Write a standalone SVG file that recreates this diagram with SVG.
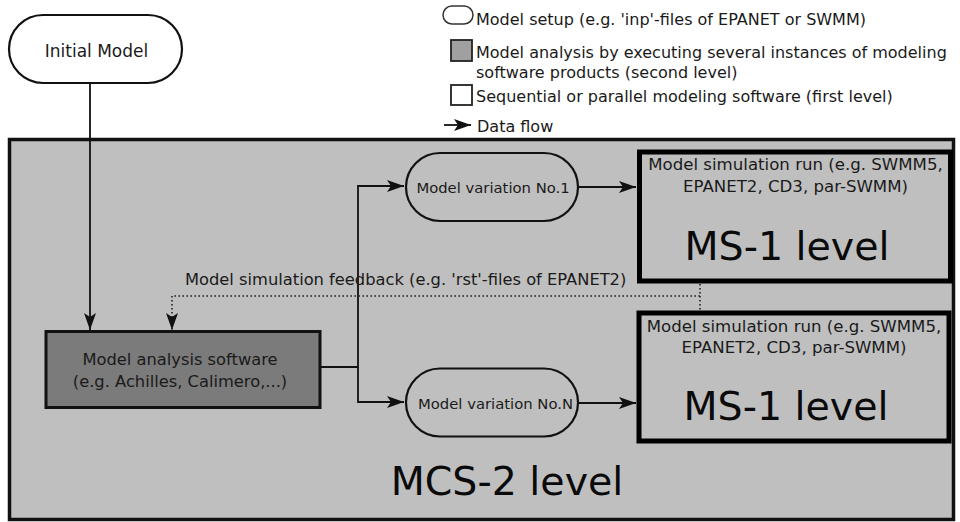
<svg xmlns="http://www.w3.org/2000/svg" width="960" height="522" viewBox="0 0 960 522">
<defs>
<style>
text{font-family:"DejaVu Sans","Liberation Sans",sans-serif;fill:#1a1a1a}
.leg{font-size:16px}
.lbl{font-size:16.3px}
.sim{font-size:16.6px;text-anchor:middle}
.big{font-size:39.5px;text-anchor:middle;fill:#0a0a0a}
.pill{stroke:#111;stroke-width:2.2;fill:none}
.flow{stroke:#111;stroke-width:1.8;fill:none}
.dot{stroke:#222;stroke-width:1.6;fill:none;stroke-dasharray:1.6 2.4}
</style>
<marker id="ah" markerUnits="userSpaceOnUse" markerWidth="18" markerHeight="13" refX="17" refY="6.5" orient="auto">
<path d="M0,0.5 L17,6.5 L0,12.5 L4,6.5 z" fill="#111"/>
</marker>
</defs>
<rect width="960" height="522" fill="#ffffff"/>

<g id="legend">
<rect x="443" y="6" width="30" height="18" rx="9" ry="9" fill="#fff" stroke="#333" stroke-width="1.5"/>
<text class="leg" x="476" y="25">Model setup (e.g. 'inp'-files of EPANET or SWMM)</text>
<rect x="451" y="40" width="21" height="21" fill="#a0a0a0" stroke="#222" stroke-width="1.8"/>
<text class="leg" x="476" y="58">Model analysis by executing several instances of modeling</text>
<text class="leg" x="476" y="78">software products (second level)</text>
<rect x="451" y="85" width="21" height="20" fill="#fff" stroke="#222" stroke-width="1.8"/>
<text class="leg" x="476" y="102">Sequential or parallel modeling software (first level)</text>
<line x1="444" y1="125" x2="471" y2="125" stroke="#111" stroke-width="1.8" marker-end="url(#ah)"/>
<text class="leg" x="477" y="132">Data flow</text>
</g>

<g id="mcs2">
<rect x="9.5" y="139.5" width="944" height="380" fill="#bfbfbf" stroke="#111" stroke-width="3.5"/>
<text class="big" x="507" y="495">MCS-2 level</text>
</g>

<g id="initial">
<rect x="9" y="15" width="173" height="68" rx="34" ry="34" fill="#fff" stroke="#111" stroke-width="2.2"/>
<text x="96.5" y="57" text-anchor="middle" font-size="17">Initial Model</text>
</g>

<g id="analysis">
<rect x="46" y="331.5" width="274" height="76" fill="#7b7b7b" stroke="#111" stroke-width="3"/>
<text class="lbl" x="180" y="365" text-anchor="middle">Model analysis software</text>
<text class="lbl" x="180" y="387" text-anchor="middle">(e.g. Achilles, Calimero,...)</text>
</g>

<g id="var1">
<rect x="406" y="153" width="172" height="68" rx="34" ry="34" class="pill"/>
<text x="493" y="193" text-anchor="middle" font-size="14.8">Model variation No.1</text>
</g>

<g id="varN">
<rect x="406" y="368.5" width="172" height="68" rx="34" ry="34" class="pill"/>
<text x="495.5" y="409" text-anchor="middle" font-size="14.8">Model variation No.N</text>
</g>

<g id="ms1a">
<rect x="639.5" y="152" width="311" height="129" fill="#bfbfbf" stroke="#000" stroke-width="5"/>
<text class="sim" x="795.5" y="170">Model simulation run (e.g. SWMM5,</text>
<text class="sim" x="795.5" y="192">EPANET2, CD3, par-SWMM)</text>
<text class="big" x="787" y="260">MS-1 level</text>
</g>

<g id="ms1b">
<rect x="639" y="313" width="310" height="128" fill="#bfbfbf" stroke="#000" stroke-width="5"/>
<text class="sim" x="794" y="332">Model simulation run (e.g. SWMM5,</text>
<text class="sim" x="794" y="353">EPANET2, CD3, par-SWMM)</text>
<text class="big" x="786" y="420">MS-1 level</text>
</g>

<g id="connectors">
<line x1="90" y1="83" x2="90" y2="330" class="flow" marker-end="url(#ah)"/>
<polyline points="320,367 358,367 358,186 404,186" class="flow" marker-end="url(#ah)"/>
<polyline points="358,367 358,402 404,402" class="flow" marker-end="url(#ah)"/>
<line x1="578" y1="187" x2="636" y2="187" class="flow" marker-end="url(#ah)"/>
<line x1="578" y1="403" x2="636" y2="403" class="flow" marker-end="url(#ah)"/>
<polyline points="700,284 700,310" class="dot"/>
<polyline points="700,296 172,296 172,330" class="dot" marker-end="url(#ah)"/>
<text class="lbl" x="185" y="285">Model simulation feedback (e.g. 'rst'-files of EPANET2)</text>
</g>
</svg>
